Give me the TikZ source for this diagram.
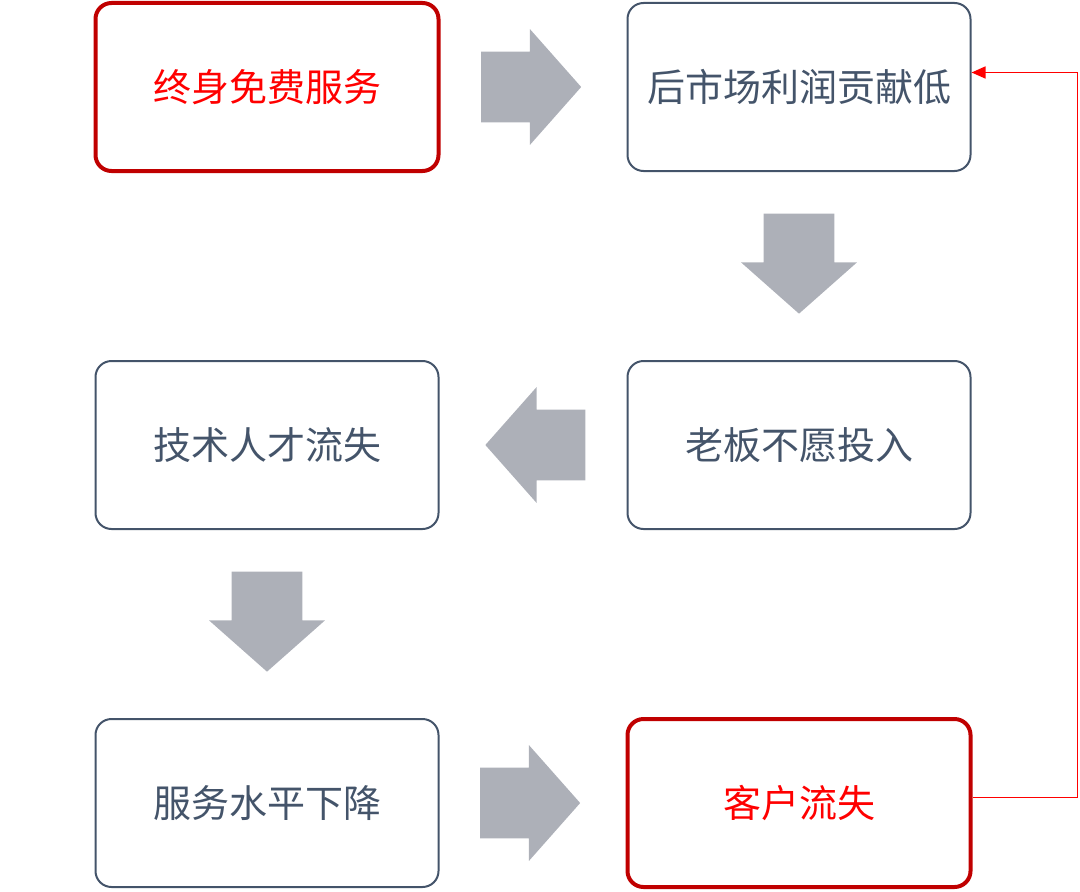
\documentclass[tikz,border=0pt]{standalone}
\usepackage{fontspec}
\setmainfont{Noto Sans CJK SC}
\usepackage{xcolor}
\usepackage{tikz}
\usetikzlibrary{shapes,arrows,positioning,calc,arrows.meta}

\definecolor{slate}{RGB}{68,84,106}
\definecolor{darkred}{RGB}{192,0,0}
\definecolor{arrowgray}{RGB}{173,176,184}

\begin{document}
\begin{tikzpicture}[x=0.5pt, y=0.5pt,
    step box/.style={draw=slate, line width=1pt, rounded corners=8pt, rectangle, minimum width=171.5pt, minimum height=84pt, text=slate, font=\fontsize{19pt}{22pt}\selectfont},
    key box/.style={step box, draw=darkred, line width=2pt, text=red},
    flow arrow/.style={single arrow, fill=arrowgray, draw=none, inner xsep=0pt, inner ysep=17.5pt, minimum height=50pt, single arrow head extend=11.25pt, single arrow tip angle=97, rotate=#1, xshift=-9pt},
    flow arrow/.default=0,
    node distance=266pt]
    \useasboundingbox (0,0) rectangle (1080,891);

    \node[key box] (free) at (267,804) {终身免费服务};
    \node[step box, right of=free] (profit) {后市场利润贡献低};
    \node[step box, below of=profit, node distance=179pt] (boss) {老板不愿投入};
    \node[step box, left of=boss] (talent) {技术人才流失};
    \node[step box, below of=talent, node distance=179pt] (level) {服务水平下降};
    \node[key box, right of=level] (lost) {客户流失};

    \node[flow arrow] (a1) at ($(free.east)!0.5!(profit.west)$) {};
    \node[flow arrow=270] (a2) at ($(profit.south)!0.5!(boss.north)$) {};
    \node[flow arrow=180] (a3) at ($(boss.west)!0.5!(talent.east)$) {};
    \node[flow arrow=270] (a4) at ($(talent.south)!0.5!(level.north)$) {};
    \node[flow arrow] (a5) at ($(level.east)!0.5!(lost.west)$) {};

    \draw[red, line width=0.75pt, -{Triangle[length=7pt,width=6pt]}] ([yshift=2.75pt]lost.east) -- ++(52.5pt,0) |- ([yshift=7.25pt]profit.east);
\end{tikzpicture}
\end{document}
